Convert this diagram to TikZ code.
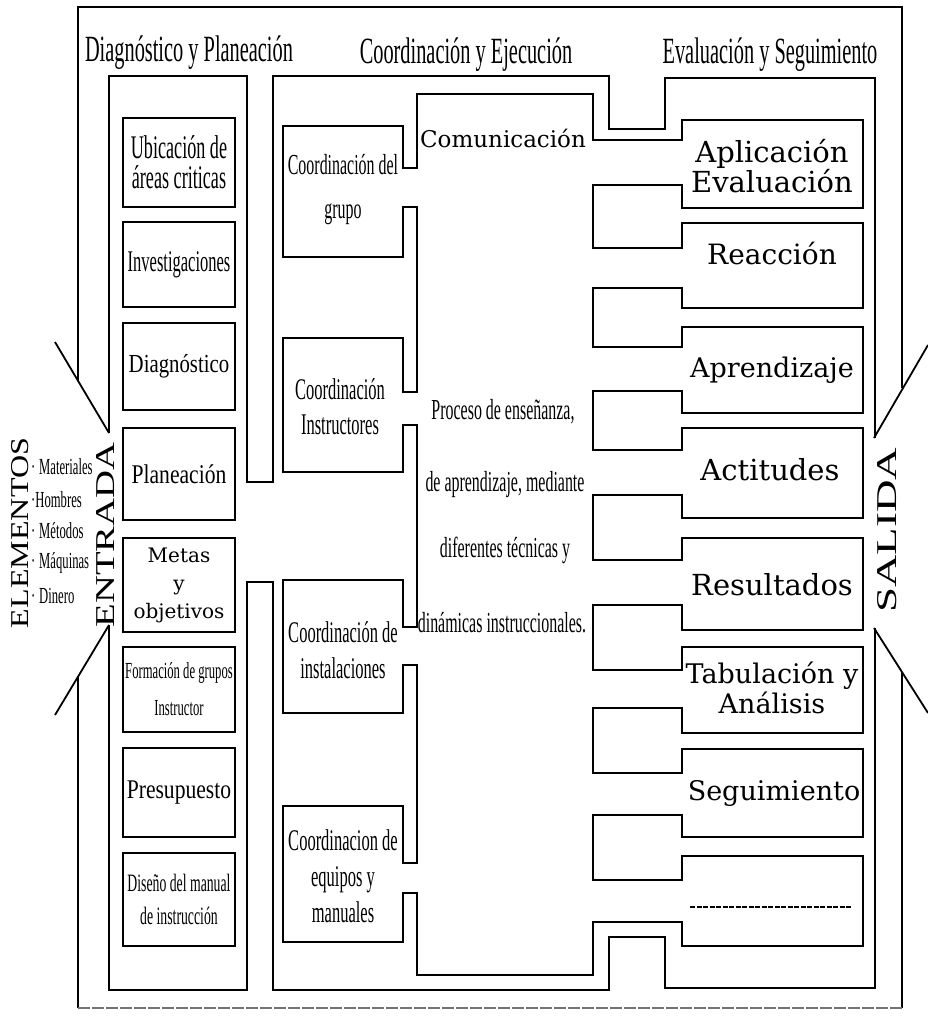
\documentclass[tikz,border=0pt]{standalone}
\usepackage{fontspec}
\usepackage{graphicx}
\setmainfont{Liberation Serif}
\newfontfamily\narrowfont[FakeStretch=0.55]{Liberation Serif}
\newfontfamily\midfont[FakeStretch=0.8]{Liberation Serif}
\newfontfamily\wideserif{DejaVu Serif}
\newcommand{\fsz}[2]{\fontsize{#1}{#2}\selectfont}
\tikzset{
  wall/.style={line width=1.8pt, line join=miter},
  cbox/.style={draw, line width=1.6pt, minimum width=112pt, inner sep=0pt, align=center},
  lbl/.style={inner sep=0pt, align=center},
  narrowlbl/.style={lbl, font={\narrowfont\fsz{#1}{#1}}},
  widelbl/.style={lbl, font={\wideserif\fsz{#1}{#1}}},
}
\begin{document}
\begin{tikzpicture}[x=1pt, y=-1pt]
\useasboundingbox (0,0) rectangle (928,1017);

% outer frame with the entry and exit funnels
\draw[wall] (78,381) -- (78,7) -- (902,7) -- (902,388);
\draw[wall] (78,677) -- (78,1008);
\draw[wall] (902,672) -- (902,1008);
\draw[line width=1.2pt, black!55, dash pattern=on 12pt off 2pt] (78,1008) -- (902,1008);
\draw[wall] (55,342) -- (109,433);
\draw[wall] (109,625) -- (55,715);
\draw[wall] (874,438) -- (928,345);
\draw[wall] (874,628) -- (928,713);

% the three columns as one channel
\draw[wall] (109,433) -- (109,76) -- (247,76) -- (247,482) -- (273,482) -- (273,76)
  -- (609,76) -- (609,129) -- (665,129) -- (665,78) -- (875,78) -- (875,438);
\draw[wall] (875,628) -- (875,988) -- (665,988) -- (665,937) -- (609,937) -- (609,990)
  -- (273,990) -- (273,582) -- (247,582) -- (247,990) -- (109,990) -- (109,625);

% central process area with its branches to both sides
\draw[wall] (417,94) -- (593,94)
  \foreach \yt/\yu/\yv/\yb in {120/140/185/208, 223/248/288/308, 327/347/391/413,
      428/450/495/518, 538/560/605/630, 647/670/708/733, 749/773/815/837, 856/880/922/946}
  { -- (593,\yu) -- (682,\yu) -- (682,\yt) -- (863,\yt) -- (863,\yb) -- (682,\yb) -- (682,\yv) -- (593,\yv) }
  -- (593,975) -- (417,975)
  \foreach \yt/\yu/\yv/\yb in {806/863/893/942, 580/627/665/713, 338/392/425/472, 126/168/207/257}
  { -- (417,\yv) -- (403,\yv) -- (403,\yb) -- (283,\yb) -- (283,\yt) -- (403,\yt) -- (403,\yu) -- (417,\yu) }
  -- cycle;

% headings
\node[narrowlbl=37] (hdiag) at (189,53) {Diagnóstico y Planeación};
\node[narrowlbl=37] (hcoord) at (466,55) {Coordinación y Ejecución};
\node[narrowlbl=37] (heval) at (770,55) {Evaluación y Seguimiento};

% diagnosis and planning column
\node[cbox, minimum height=89pt, font={\narrowfont\fsz{33}{30}}] (ubic) at (179,162.5) {Ubicación de\\áreas criticas};
\node[cbox, minimum height=85pt, font={\narrowfont\fsz{30}{30}}] (invest) at (179,264.5) {Investigaciones};
\node[cbox, minimum height=87pt, font={\midfont\fsz{26}{26}}] (diag) at (179,366.5) {Diagnóstico};
\node[cbox, minimum height=92pt, font={\midfont\fsz{27}{27}}] (plan) at (179,474) {Planeación};
\node[cbox, minimum height=94pt, font={\wideserif\fsz{20}{28}}] (metas) at (179,585) {Metas\\y\\objetivos};
\node[cbox, minimum height=85pt, font={\narrowfont\fsz{23}{37}}] (form) at (179,689.5) {Formación de grupos\\Instructor};
\node[cbox, minimum height=89pt, font={\midfont\fsz{27}{27}}] (presu) at (179,792.5) {Presupuesto};
\node[cbox, minimum height=93pt, font={\narrowfont\fsz{25}{33}}] (disen) at (179,899.5) {Diseño del manual\\de instrucción};

% coordination branches
\node[lbl, font={\narrowfont\fsz{29}{44}}] (cgrupo) at (343,190) {Coordinación del\\grupo};
\node[lbl, font={\narrowfont\fsz{30}{35}}] (cinstr) at (340,407) {Coordinación\\Instructores};
\node[lbl, font={\narrowfont\fsz{30}{36}}] (cinsta) at (343,650) {Coordinación de\\instalaciones};
\node[lbl, font={\narrowfont\fsz{30}{36}}] (cequip) at (343,876) {Coordinacion de\\equipos y\\manuales};

% central process
\node[widelbl=23] (comun) at (503,138) {Comunicación};
\node[narrowlbl=29] (proc1) at (503,412) {Proceso de enseñanza,};
\node[narrowlbl=29] (proc2) at (505,485) {de aprendizaje, mediante};
\node[narrowlbl=29] (proc3) at (505,550) {diferentes técnicas y};
\node[narrowlbl=29] (proc4) at (502,623) {dinámicas instruccionales.};

% evaluation branches
\node[lbl, font={\wideserif\fsz{29}{29}}] (aplic) at (772,166) {Aplicación\\Evaluación};
\node[widelbl=28] (reacc) at (772,253) {Reacción};
\node[widelbl=27] (apren) at (772,370) {Aprendizaje};
\node[widelbl=29] (actit) at (770,470) {Actitudes};
\node[widelbl=29] (result) at (772,585) {Resultados};
\node[lbl, font={\wideserif\fsz{27}{30}}] (tabul) at (772,688) {Tabulación y\\Análisis};
\node[widelbl=27] (segui) at (774,793) {Seguimiento};
\coordinate (blankL) at (690,907);
\coordinate (blankR) at (852,907);
\draw[line width=1.6pt, dash pattern=on 5pt off 1.5pt] (blankL) -- (blankR);

% input and output labels
\node[lbl, rotate=90] (elem) at (20,533) {\resizebox{190pt}{17pt}{ELEMENTOS}};
\node[lbl, rotate=90] (entr) at (106,535) {\resizebox{185pt}{18pt}{ENTRADA}};
\node[lbl, rotate=90] (sal) at (887,530) {\resizebox{165pt}{19pt}{SALIDA}};
\node[lbl, anchor=west, font={\narrowfont\fsz{23}{23}}] (mat) at (31,467) {·\,Materiales};
\node[lbl, anchor=west, font={\narrowfont\fsz{23}{23}}] (homb) at (31,500) {·Hombres};
\node[lbl, anchor=west, font={\narrowfont\fsz{23}{23}}] (meto) at (31,531) {·\,Métodos};
\node[lbl, anchor=west, font={\narrowfont\fsz{23}{23}}] (maqu) at (31,563) {·\,Máquinas};
\node[lbl, anchor=west, font={\narrowfont\fsz{23}{23}}] (diner) at (31,596) {·\,Dinero};
\end{tikzpicture}
\end{document}
